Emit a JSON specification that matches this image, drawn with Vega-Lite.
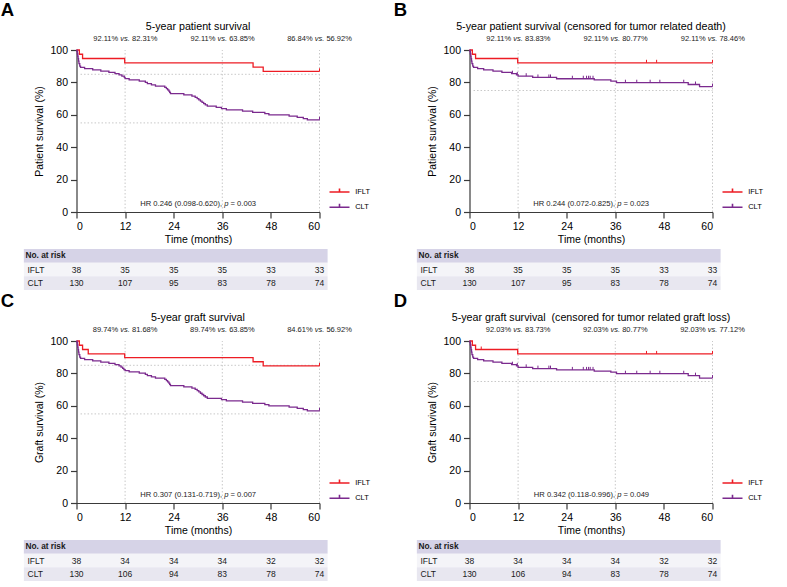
{
"$schema":"https://vega.github.io/schema/vega-lite/v6.json",
"padding":{"left":0.5,"top":0,"right":0,"bottom":0},
"config":{
 "font":"Liberation Sans",
 "view":{"stroke":null},
 "axis":{"domainColor":"#3a3a3a","tickColor":"#3a3a3a","labelColor":"#000","titleColor":"#000","labelFontSize":10.5,"titleFontSize":10.5,"titleFontWeight":"normal","tickSize":6,"grid":false,"domainWidth":1.2,"tickWidth":1.2,"labelOverlap":false},
 "axisX":{"labelPadding":3,"titlePadding":3},
 "axisY":{"labelPadding":3,"titlePadding":5},
 "title":{"fontWeight":"normal","fontSize":10.7,"color":"#000"},
 "text":{"color":"#1a1a1a"}
},
"datasets":{
 "km":[
  {"p":"A","g":"IFLT","t":0,"s":100},{"p":"A","g":"IFLT","t":0.7,"s":97.37},{"p":"A","g":"IFLT","t":1.5,"s":94.74},{"p":"A","g":"IFLT","t":11.9,"s":92.11},{"p":"A","g":"IFLT","t":43.6,"s":89.47},{"p":"A","g":"IFLT","t":46.1,"s":86.84},{"p":"A","g":"IFLT","t":60,"s":86.84},
  {"p":"A","g":"CLT","t":0,"s":100},{"p":"A","g":"CLT","t":0.1,"s":99.23},{"p":"A","g":"CLT","t":0.2,"s":97.69},{"p":"A","g":"CLT","t":0.3,"s":96.15},{"p":"A","g":"CLT","t":0.4,"s":94.62},{"p":"A","g":"CLT","t":0.5,"s":93.08},{"p":"A","g":"CLT","t":0.6,"s":91.54},{"p":"A","g":"CLT","t":0.8,"s":90.0},{"p":"A","g":"CLT","t":1.0,"s":89.23},{"p":"A","g":"CLT","t":2.0,"s":88.46},{"p":"A","g":"CLT","t":4.0,"s":87.69},{"p":"A","g":"CLT","t":6.0,"s":86.92},{"p":"A","g":"CLT","t":8.0,"s":86.15},{"p":"A","g":"CLT","t":9.5,"s":85.38},{"p":"A","g":"CLT","t":10.5,"s":84.62},{"p":"A","g":"CLT","t":11.2,"s":83.85},{"p":"A","g":"CLT","t":11.8,"s":83.08},{"p":"A","g":"CLT","t":12.0,"s":82.31},{"p":"A","g":"CLT","t":13,"s":81.54},{"p":"A","g":"CLT","t":15.5,"s":80.77},{"p":"A","g":"CLT","t":17,"s":80.0},{"p":"A","g":"CLT","t":17.5,"s":79.23},{"p":"A","g":"CLT","t":18.5,"s":78.46},{"p":"A","g":"CLT","t":19.5,"s":77.69},{"p":"A","g":"CLT","t":21.8,"s":76.92},{"p":"A","g":"CLT","t":22.2,"s":76.15},{"p":"A","g":"CLT","t":22.5,"s":75.38},{"p":"A","g":"CLT","t":22.8,"s":74.62},{"p":"A","g":"CLT","t":23.0,"s":73.85},{"p":"A","g":"CLT","t":23.2,"s":73.08},{"p":"A","g":"CLT","t":26.5,"s":72.31},{"p":"A","g":"CLT","t":28.5,"s":71.54},{"p":"A","g":"CLT","t":29.3,"s":70.77},{"p":"A","g":"CLT","t":29.8,"s":70.0},{"p":"A","g":"CLT","t":30.2,"s":69.23},{"p":"A","g":"CLT","t":30.6,"s":68.46},{"p":"A","g":"CLT","t":31.0,"s":67.69},{"p":"A","g":"CLT","t":31.4,"s":66.92},{"p":"A","g":"CLT","t":31.8,"s":66.15},{"p":"A","g":"CLT","t":32.3,"s":65.38},{"p":"A","g":"CLT","t":34.5,"s":64.62},{"p":"A","g":"CLT","t":35.8,"s":63.85},{"p":"A","g":"CLT","t":37,"s":63.08},{"p":"A","g":"CLT","t":41,"s":62.31},{"p":"A","g":"CLT","t":43.5,"s":61.54},{"p":"A","g":"CLT","t":46.5,"s":60.77},{"p":"A","g":"CLT","t":47.5,"s":60.0},{"p":"A","g":"CLT","t":52.5,"s":59.23},{"p":"A","g":"CLT","t":54.5,"s":58.46},{"p":"A","g":"CLT","t":56,"s":57.69},{"p":"A","g":"CLT","t":57,"s":56.92},{"p":"A","g":"CLT","t":60,"s":56.92},
  {"p":"B","g":"IFLT","t":0,"s":100},{"p":"B","g":"IFLT","t":0.7,"s":97.37},{"p":"B","g":"IFLT","t":1.5,"s":94.74},{"p":"B","g":"IFLT","t":11.9,"s":92.11},{"p":"B","g":"IFLT","t":60,"s":92.11},
  {"p":"B","g":"CLT","t":0,"s":100},{"p":"B","g":"CLT","t":0.1,"s":99.23},{"p":"B","g":"CLT","t":0.2,"s":97.69},{"p":"B","g":"CLT","t":0.3,"s":96.15},{"p":"B","g":"CLT","t":0.4,"s":94.62},{"p":"B","g":"CLT","t":0.5,"s":93.08},{"p":"B","g":"CLT","t":0.6,"s":91.54},{"p":"B","g":"CLT","t":0.8,"s":90.0},{"p":"B","g":"CLT","t":1.0,"s":89.23},{"p":"B","g":"CLT","t":2.0,"s":88.46},{"p":"B","g":"CLT","t":3.5,"s":87.69},{"p":"B","g":"CLT","t":5.8,"s":86.92},{"p":"B","g":"CLT","t":8.0,"s":86.15},{"p":"B","g":"CLT","t":10.4,"s":85.38},{"p":"B","g":"CLT","t":11.6,"s":84.61},{"p":"B","g":"CLT","t":12.0,"s":83.83},{"p":"B","g":"CLT","t":15.6,"s":83.05},{"p":"B","g":"CLT","t":21.5,"s":82.26},{"p":"B","g":"CLT","t":30.8,"s":81.5},{"p":"B","g":"CLT","t":34.9,"s":80.77},{"p":"B","g":"CLT","t":36.3,"s":79.8},{"p":"B","g":"CLT","t":54.0,"s":78.7},{"p":"B","g":"CLT","t":56.8,"s":77.4},{"p":"B","g":"CLT","t":60,"s":77.4},
  {"p":"C","g":"IFLT","t":0,"s":100},{"p":"C","g":"IFLT","t":0.7,"s":97.37},{"p":"C","g":"IFLT","t":1.5,"s":94.74},{"p":"C","g":"IFLT","t":2.9,"s":92.11},{"p":"C","g":"IFLT","t":11.9,"s":89.74},{"p":"C","g":"IFLT","t":43.6,"s":87.18},{"p":"C","g":"IFLT","t":46.1,"s":84.61},{"p":"C","g":"IFLT","t":60,"s":84.61},
  {"p":"C","g":"CLT","t":0,"s":100},{"p":"C","g":"CLT","t":0.1,"s":99.23},{"p":"C","g":"CLT","t":0.2,"s":97.69},{"p":"C","g":"CLT","t":0.3,"s":96.15},{"p":"C","g":"CLT","t":0.4,"s":94.62},{"p":"C","g":"CLT","t":0.5,"s":93.08},{"p":"C","g":"CLT","t":0.6,"s":91.54},{"p":"C","g":"CLT","t":0.8,"s":90.0},{"p":"C","g":"CLT","t":1.0,"s":89.23},{"p":"C","g":"CLT","t":2.0,"s":88.46},{"p":"C","g":"CLT","t":4.0,"s":87.69},{"p":"C","g":"CLT","t":6.0,"s":86.92},{"p":"C","g":"CLT","t":8.0,"s":86.15},{"p":"C","g":"CLT","t":9.5,"s":85.38},{"p":"C","g":"CLT","t":10.5,"s":84.62},{"p":"C","g":"CLT","t":11.0,"s":83.85},{"p":"C","g":"CLT","t":11.4,"s":83.08},{"p":"C","g":"CLT","t":11.7,"s":82.36},{"p":"C","g":"CLT","t":12.0,"s":81.68},{"p":"C","g":"CLT","t":13,"s":80.91},{"p":"C","g":"CLT","t":15.5,"s":80.14},{"p":"C","g":"CLT","t":17,"s":79.37},{"p":"C","g":"CLT","t":17.5,"s":78.6},{"p":"C","g":"CLT","t":18.5,"s":77.83},{"p":"C","g":"CLT","t":19.5,"s":77.06},{"p":"C","g":"CLT","t":21.8,"s":76.29},{"p":"C","g":"CLT","t":22.2,"s":75.52},{"p":"C","g":"CLT","t":22.5,"s":74.75},{"p":"C","g":"CLT","t":22.8,"s":73.98},{"p":"C","g":"CLT","t":23.0,"s":73.21},{"p":"C","g":"CLT","t":23.2,"s":72.44},{"p":"C","g":"CLT","t":26.5,"s":71.66},{"p":"C","g":"CLT","t":28.5,"s":70.88},{"p":"C","g":"CLT","t":29.3,"s":70.1},{"p":"C","g":"CLT","t":29.8,"s":69.32},{"p":"C","g":"CLT","t":30.2,"s":68.54},{"p":"C","g":"CLT","t":30.6,"s":67.76},{"p":"C","g":"CLT","t":31.0,"s":66.98},{"p":"C","g":"CLT","t":31.4,"s":66.2},{"p":"C","g":"CLT","t":31.8,"s":65.42},{"p":"C","g":"CLT","t":32.3,"s":64.64},{"p":"C","g":"CLT","t":35.8,"s":63.85},{"p":"C","g":"CLT","t":37,"s":63.08},{"p":"C","g":"CLT","t":41,"s":62.31},{"p":"C","g":"CLT","t":43.5,"s":61.54},{"p":"C","g":"CLT","t":46.5,"s":60.77},{"p":"C","g":"CLT","t":47.5,"s":60.0},{"p":"C","g":"CLT","t":52.5,"s":59.23},{"p":"C","g":"CLT","t":54.5,"s":58.46},{"p":"C","g":"CLT","t":56,"s":57.69},{"p":"C","g":"CLT","t":57,"s":56.92},{"p":"C","g":"CLT","t":60,"s":56.92},
  {"p":"D","g":"IFLT","t":0,"s":100},{"p":"D","g":"IFLT","t":0.7,"s":97.37},{"p":"D","g":"IFLT","t":1.5,"s":94.74},{"p":"D","g":"IFLT","t":11.9,"s":92.03},{"p":"D","g":"IFLT","t":60,"s":92.03},
  {"p":"D","g":"CLT","t":0,"s":100},{"p":"D","g":"CLT","t":0.1,"s":99.23},{"p":"D","g":"CLT","t":0.2,"s":97.69},{"p":"D","g":"CLT","t":0.3,"s":96.15},{"p":"D","g":"CLT","t":0.4,"s":94.62},{"p":"D","g":"CLT","t":0.5,"s":93.08},{"p":"D","g":"CLT","t":0.6,"s":91.54},{"p":"D","g":"CLT","t":0.8,"s":90.0},{"p":"D","g":"CLT","t":1.0,"s":89.23},{"p":"D","g":"CLT","t":2.0,"s":88.46},{"p":"D","g":"CLT","t":3.5,"s":87.69},{"p":"D","g":"CLT","t":5.8,"s":86.92},{"p":"D","g":"CLT","t":8.0,"s":86.15},{"p":"D","g":"CLT","t":10.4,"s":85.38},{"p":"D","g":"CLT","t":11.6,"s":84.61},{"p":"D","g":"CLT","t":12.0,"s":83.73},{"p":"D","g":"CLT","t":15.6,"s":82.95},{"p":"D","g":"CLT","t":21.5,"s":82.16},{"p":"D","g":"CLT","t":30.8,"s":81.4},{"p":"D","g":"CLT","t":34.9,"s":80.77},{"p":"D","g":"CLT","t":36.3,"s":79.8},{"p":"D","g":"CLT","t":54.0,"s":78.6},{"p":"D","g":"CLT","t":56.8,"s":77.12},{"p":"D","g":"CLT","t":60,"s":77.12}
 ],
 "cens":[
  {"p":"A","g":"IFLT","t":60,"s":86.84},{"p":"A","g":"CLT","t":60,"s":56.92},
  {"p":"C","g":"IFLT","t":60,"s":84.61},{"p":"C","g":"CLT","t":60,"s":56.92},
  {"p":"B","g":"IFLT","t":43.7,"s":92.11},{"p":"B","g":"IFLT","t":46.2,"s":92.11},{"p":"B","g":"IFLT","t":60,"s":92.11},
  {"p":"B","g":"CLT","t":10.6,"s":85.38},{"p":"B","g":"CLT","t":11.8,"s":84.61},{"p":"B","g":"CLT","t":14.0,"s":83.83},{"p":"B","g":"CLT","t":16.9,"s":83.05},{"p":"B","g":"CLT","t":19.6,"s":83.05},{"p":"B","g":"CLT","t":20.0,"s":83.05},{"p":"B","g":"CLT","t":25.4,"s":82.26},{"p":"B","g":"CLT","t":28.1,"s":82.26},{"p":"B","g":"CLT","t":28.9,"s":82.26},{"p":"B","g":"CLT","t":29.4,"s":82.26},{"p":"B","g":"CLT","t":29.8,"s":82.26},{"p":"B","g":"CLT","t":30.5,"s":82.26},{"p":"B","g":"CLT","t":38.5,"s":79.8},{"p":"B","g":"CLT","t":41.3,"s":79.8},{"p":"B","g":"CLT","t":44.6,"s":79.8},{"p":"B","g":"CLT","t":47.0,"s":79.8},{"p":"B","g":"CLT","t":52.9,"s":79.8},{"p":"B","g":"CLT","t":55.8,"s":78.7},{"p":"B","g":"CLT","t":60,"s":77.4},
  {"p":"D","g":"IFLT","t":2.9,"s":94.74},{"p":"D","g":"IFLT","t":43.7,"s":92.03},{"p":"D","g":"IFLT","t":46.2,"s":92.03},{"p":"D","g":"IFLT","t":60,"s":92.03},
  {"p":"D","g":"CLT","t":10.6,"s":85.38},{"p":"D","g":"CLT","t":11.8,"s":84.61},{"p":"D","g":"CLT","t":14.0,"s":83.73},{"p":"D","g":"CLT","t":16.9,"s":82.95},{"p":"D","g":"CLT","t":19.6,"s":82.95},{"p":"D","g":"CLT","t":20.0,"s":82.95},{"p":"D","g":"CLT","t":25.4,"s":82.16},{"p":"D","g":"CLT","t":28.1,"s":82.16},{"p":"D","g":"CLT","t":28.9,"s":82.16},{"p":"D","g":"CLT","t":29.4,"s":82.16},{"p":"D","g":"CLT","t":29.8,"s":82.16},{"p":"D","g":"CLT","t":30.5,"s":82.16},{"p":"D","g":"CLT","t":38.5,"s":79.8},{"p":"D","g":"CLT","t":41.3,"s":79.8},{"p":"D","g":"CLT","t":44.6,"s":79.8},{"p":"D","g":"CLT","t":47.0,"s":79.8},{"p":"D","g":"CLT","t":52.9,"s":79.8},{"p":"D","g":"CLT","t":55.8,"s":78.6},{"p":"D","g":"CLT","t":60,"s":77.12}
 ],
 "pct":[
  {"p":"A","t":12,"a":"92.11%","b":"82.31%"},{"p":"A","t":36,"a":"92.11%","b":"63.85%"},{"p":"A","t":60,"a":"86.84%","b":"56.92%"},
  {"p":"B","t":12,"a":"92.11%","b":"83.83%"},{"p":"B","t":36,"a":"92.11%","b":"80.77%"},{"p":"B","t":60,"a":"92.11%","b":"78.46%"},
  {"p":"C","t":12,"a":"89.74%","b":"81.68%"},{"p":"C","t":36,"a":"89.74%","b":"63.85%"},{"p":"C","t":60,"a":"84.61%","b":"56.92%"},
  {"p":"D","t":12,"a":"92.03%","b":"83.73%"},{"p":"D","t":36,"a":"92.03%","b":"80.77%"},{"p":"D","t":60,"a":"92.03%","b":"77.12%"}
 ],
 "ref":[{"p":"A","s":85},{"p":"A","s":55},{"p":"B","s":75},{"p":"C","s":85},{"p":"C","s":55},{"p":"D","s":75}],
 "hr":[
  {"p":"A","h":"HR 0.246 (0.098-0.620),","v":"= 0.003"},
  {"p":"B","h":"HR 0.244 (0.072-0.825),","v":"= 0.023"},
  {"p":"C","h":"HR 0.307 (0.131-0.719),","v":"= 0.007"},
  {"p":"D","h":"HR 0.342 (0.118-0.996),","v":"= 0.049"}
 ],
 "risk":[
  {"p":"A","g":"IFLT","t":0,"n":38},{"p":"A","g":"IFLT","t":12,"n":35},{"p":"A","g":"IFLT","t":24,"n":35},{"p":"A","g":"IFLT","t":36,"n":35},{"p":"A","g":"IFLT","t":48,"n":33},{"p":"A","g":"IFLT","t":60,"n":33},
  {"p":"A","g":"CLT","t":0,"n":130},{"p":"A","g":"CLT","t":12,"n":107},{"p":"A","g":"CLT","t":24,"n":95},{"p":"A","g":"CLT","t":36,"n":83},{"p":"A","g":"CLT","t":48,"n":78},{"p":"A","g":"CLT","t":60,"n":74},
  {"p":"B","g":"IFLT","t":0,"n":38},{"p":"B","g":"IFLT","t":12,"n":35},{"p":"B","g":"IFLT","t":24,"n":35},{"p":"B","g":"IFLT","t":36,"n":35},{"p":"B","g":"IFLT","t":48,"n":33},{"p":"B","g":"IFLT","t":60,"n":33},
  {"p":"B","g":"CLT","t":0,"n":130},{"p":"B","g":"CLT","t":12,"n":107},{"p":"B","g":"CLT","t":24,"n":95},{"p":"B","g":"CLT","t":36,"n":83},{"p":"B","g":"CLT","t":48,"n":78},{"p":"B","g":"CLT","t":60,"n":74},
  {"p":"C","g":"IFLT","t":0,"n":38},{"p":"C","g":"IFLT","t":12,"n":34},{"p":"C","g":"IFLT","t":24,"n":34},{"p":"C","g":"IFLT","t":36,"n":34},{"p":"C","g":"IFLT","t":48,"n":32},{"p":"C","g":"IFLT","t":60,"n":32},
  {"p":"C","g":"CLT","t":0,"n":130},{"p":"C","g":"CLT","t":12,"n":106},{"p":"C","g":"CLT","t":24,"n":94},{"p":"C","g":"CLT","t":36,"n":83},{"p":"C","g":"CLT","t":48,"n":78},{"p":"C","g":"CLT","t":60,"n":74},
  {"p":"D","g":"IFLT","t":0,"n":38},{"p":"D","g":"IFLT","t":12,"n":34},{"p":"D","g":"IFLT","t":24,"n":34},{"p":"D","g":"IFLT","t":36,"n":34},{"p":"D","g":"IFLT","t":48,"n":32},{"p":"D","g":"IFLT","t":60,"n":32},
  {"p":"D","g":"CLT","t":0,"n":130},{"p":"D","g":"CLT","t":12,"n":106},{"p":"D","g":"CLT","t":24,"n":94},{"p":"D","g":"CLT","t":36,"n":83},{"p":"D","g":"CLT","t":48,"n":78},{"p":"D","g":"CLT","t":60,"n":74}
 ]
},
"spacing":1,
"resolve":{"scale":{"color":"independent"},"legend":{"color":"independent"}},
"vconcat":[
 {"spacing":23,"resolve":{"scale":{"color":"independent"},"legend":{"color":"independent"}},
  "hconcat":[
   {"title":{"text":"A","anchor":"start","fontSize":18.5,"fontWeight":"bold","offset":2,"dx":-23},
    "spacing":4,"resolve":{"scale":{"color":"independent"},"legend":{"color":"independent"}},
    "vconcat":[
     {"width":243,"height":162,
      "title":{"text":"5-year patient survival","frame":"group","anchor":"middle","offset":2},
      "layer":[
       {"data":{"name":"pct"},"transform":[{"filter":"datum.p==='A'"}],"mark":{"type":"rule","color":"#c8c8c8","strokeDash":[1.5,2],"strokeWidth":1},"encoding":{"x":{"field":"t","type":"quantitative","title":"Time (months)","scale":{"domain":[0,60],"nice":false,"zero":false},"axis":{"values":[0,12,24,36,48,60],"labelOverlap":false}},"y":{"datum":0,"title":"Patient survival (%)","scale":{"domain":[0,100],"nice":false},"axis":{"values":[0,20,40,60,80,100],"labelOverlap":false}},"y2":{"datum":100}}},
       {"data":{"name":"ref"},"transform":[{"filter":"datum.p==='A'"}],"mark":{"type":"rule","color":"#c8c8c8","strokeDash":[1.5,2],"strokeWidth":1},"encoding":{"x":{"datum":1,"title":"Time (months)","scale":{"domain":[0,60],"nice":false,"zero":false},"axis":{"values":[0,12,24,36,48,60],"labelOverlap":false}},"x2":{"datum":60},"y":{"field":"s","type":"quantitative","title":"Patient survival (%)","scale":{"domain":[0,100],"nice":false},"axis":{"values":[0,20,40,60,80,100],"labelOverlap":false}}}},
       {"data":{"name":"km"},"transform":[{"filter":"datum.p==='A'"}],"mark":{"type":"line","interpolate":"step-after","strokeWidth":1.3},
        "encoding":{"x":{"field":"t","type":"quantitative","title":"Time (months)","scale":{"domain":[0,60],"nice":false,"zero":false},"axis":{"values":[0,12,24,36,48,60],"labelOverlap":false}},"y":{"field":"s","type":"quantitative","title":"Patient survival (%)","scale":{"domain":[0,100],"nice":false},"axis":{"values":[0,20,40,60,80,100],"labelOverlap":false}},
         "color":{"field":"g","type":"nominal","scale":{"domain":["IFLT","CLT"],"range":["#ed1c24","#7b2a8e"]},
          "legend":{"title":null,"orient":"none","direction":"vertical","legendX":257,"legendY":136,"symbolType":"M-2,0H2M0,0V-0.7","symbolSize":100,"symbolStrokeWidth":1.6,"labelFontSize":7.5,"labelOffset":9.7,"rowPadding":4.2,"padding":0,"labelColor":"#000"}}}},
       {"data":{"name":"cens"},"transform":[{"filter":"datum.p==='A' && datum.g==='IFLT'"}],"mark":{"type":"point","shape":"M0,0V-1","size":36,"filled":false,"color":"#ed1c24","strokeWidth":1,"opacity":1},"encoding":{"x":{"field":"t","type":"quantitative","title":"Time (months)","scale":{"domain":[0,60],"nice":false,"zero":false},"axis":{"values":[0,12,24,36,48,60],"labelOverlap":false}},"y":{"field":"s","type":"quantitative","title":"Patient survival (%)","scale":{"domain":[0,100],"nice":false},"axis":{"values":[0,20,40,60,80,100],"labelOverlap":false}}}},
       {"data":{"name":"cens"},"transform":[{"filter":"datum.p==='A' && datum.g==='CLT'"}],"mark":{"type":"point","shape":"M0,0V-1","size":36,"filled":false,"color":"#7b2a8e","strokeWidth":1,"opacity":1},"encoding":{"x":{"field":"t","type":"quantitative","title":"Time (months)","scale":{"domain":[0,60],"nice":false,"zero":false},"axis":{"values":[0,12,24,36,48,60],"labelOverlap":false}},"y":{"field":"s","type":"quantitative","title":"Patient survival (%)","scale":{"domain":[0,100],"nice":false},"axis":{"values":[0,20,40,60,80,100],"labelOverlap":false}}}},
       {"data":{"name":"pct"},"transform":[{"filter":"datum.p==='A'"}],"mark":{"type":"text","align":"right","dx":-6.9,"fontSize":7.5,"baseline":"middle"},"encoding":{"x":{"field":"t","type":"quantitative","title":"Time (months)","scale":{"domain":[0,60],"nice":false,"zero":false},"axis":{"values":[0,12,24,36,48,60],"labelOverlap":false}},"y":{"datum":106.8,"title":"Patient survival (%)","scale":{"domain":[0,100],"nice":false},"axis":{"values":[0,20,40,60,80,100],"labelOverlap":false}},"text":{"field":"a"}}},
       {"data":{"name":"pct"},"transform":[{"filter":"datum.p==='A'"}],"mark":{"type":"text","text":"vs.","fontStyle":"italic","align":"center","fontSize":7.5,"baseline":"middle"},"encoding":{"x":{"field":"t","type":"quantitative","title":"Time (months)","scale":{"domain":[0,60],"nice":false,"zero":false},"axis":{"values":[0,12,24,36,48,60],"labelOverlap":false}},"y":{"datum":106.8,"title":"Patient survival (%)","scale":{"domain":[0,100],"nice":false},"axis":{"values":[0,20,40,60,80,100],"labelOverlap":false}}}},
       {"data":{"name":"pct"},"transform":[{"filter":"datum.p==='A'"}],"mark":{"type":"text","align":"left","dx":6.9,"fontSize":7.5,"baseline":"middle"},"encoding":{"x":{"field":"t","type":"quantitative","title":"Time (months)","scale":{"domain":[0,60],"nice":false,"zero":false},"axis":{"values":[0,12,24,36,48,60],"labelOverlap":false}},"y":{"datum":106.8,"title":"Patient survival (%)","scale":{"domain":[0,100],"nice":false},"axis":{"values":[0,20,40,60,80,100],"labelOverlap":false}},"text":{"field":"b"}}},
       {"data":{"name":"hr"},"transform":[{"filter":"datum.p==='A'"}],"mark":{"type":"text","align":"right","dx":-4.2,"fontSize":7.6,"baseline":"middle"},"encoding":{"x":{"datum":37,"title":"Time (months)","scale":{"domain":[0,60],"nice":false,"zero":false},"axis":{"values":[0,12,24,36,48,60],"labelOverlap":false}},"y":{"datum":5.1,"title":"Patient survival (%)","scale":{"domain":[0,100],"nice":false},"axis":{"values":[0,20,40,60,80,100],"labelOverlap":false}},"text":{"field":"h"}}},
       {"data":{"name":"hr"},"transform":[{"filter":"datum.p==='A'"}],"mark":{"type":"text","text":"p","fontStyle":"italic","align":"center","fontSize":7.6,"baseline":"middle"},"encoding":{"x":{"datum":37,"title":"Time (months)","scale":{"domain":[0,60],"nice":false,"zero":false},"axis":{"values":[0,12,24,36,48,60],"labelOverlap":false}},"y":{"datum":5.1,"title":"Patient survival (%)","scale":{"domain":[0,100],"nice":false},"axis":{"values":[0,20,40,60,80,100],"labelOverlap":false}}}},
       {"data":{"name":"hr"},"transform":[{"filter":"datum.p==='A'"}],"mark":{"type":"text","align":"left","dx":4.2,"fontSize":7.6,"baseline":"middle"},"encoding":{"x":{"datum":37,"title":"Time (months)","scale":{"domain":[0,60],"nice":false,"zero":false},"axis":{"values":[0,12,24,36,48,60],"labelOverlap":false}},"y":{"datum":5.1,"title":"Patient survival (%)","scale":{"domain":[0,100],"nice":false},"axis":{"values":[0,20,40,60,80,100],"labelOverlap":false}},"text":{"field":"v"}}}
      ]},
     {"width":243,"height":41,"data":{"name":"risk"},"transform":[{"filter":"datum.p==='A'"}],
      "layer":[
       {"transform":[{"filter":"datum.t===0 && datum.g==='IFLT'"}],"mark":{"type":"rect","fill":"#d6d3e7"},"encoding":{"x":{"datum":-13,"axis":null},"x2":{"datum":62},"y":{"datum":"No. at risk","type":"nominal","axis":null}}},
       {"transform":[{"filter":"datum.t===0 && datum.g==='IFLT'"}],"mark":{"type":"rect","fill":"#f4f4f8"},"encoding":{"x":{"datum":-13,"axis":null},"x2":{"datum":62},"y":{"datum":"IFLT","type":"nominal","axis":null}}},
       {"transform":[{"filter":"datum.t===0 && datum.g==='IFLT'"}],"mark":{"type":"rect","fill":"#e8e7f0"},"encoding":{"x":{"datum":-13,"axis":null},"x2":{"datum":62},"y":{"datum":"CLT","type":"nominal","axis":null}}},
       {"transform":[{"filter":"datum.t===0 && datum.g==='IFLT'"}],"mark":{"type":"text","text":"No. at risk","align":"left","fontWeight":"bold","fontSize":8.3,"baseline":"middle"},"encoding":{"x":{"datum":-12.6,"axis":null},"y":{"datum":"No. at risk","type":"nominal","axis":null}}},
       {"transform":[{"filter":"datum.t===0"}],"mark":{"type":"text","align":"left","fontSize":8.5,"baseline":"middle"},"encoding":{"x":{"datum":-12.1,"axis":null},"y":{"field":"g","type":"nominal","axis":null},"text":{"field":"g"}}},
       {"mark":{"type":"text","fontSize":8.5,"baseline":"middle"},"encoding":{"x":{"field":"t","type":"quantitative","scale":{"domain":[0,60],"nice":false,"zero":false},"axis":null},"y":{"field":"g","type":"nominal","scale":{"type":"band","domain":["No. at risk","IFLT","CLT"],"paddingInner":0,"paddingOuter":0},"axis":null},"text":{"field":"n"}}}
      ]}
    ]},
   {"title":{"text":"B","anchor":"start","fontSize":18.5,"fontWeight":"bold","offset":2,"dx":-23},
    "spacing":4,"resolve":{"scale":{"color":"independent"},"legend":{"color":"independent"}},
    "vconcat":[
     {"width":243,"height":162,
      "title":{"text":"5-year patient survival (censored for tumor related death)","frame":"group","anchor":"middle","offset":2},
      "layer":[
       {"data":{"name":"pct"},"transform":[{"filter":"datum.p==='B'"}],"mark":{"type":"rule","color":"#c8c8c8","strokeDash":[1.5,2],"strokeWidth":1},"encoding":{"x":{"field":"t","type":"quantitative","title":"Time (months)","scale":{"domain":[0,60],"nice":false,"zero":false},"axis":{"values":[0,12,24,36,48,60],"labelOverlap":false}},"y":{"datum":0,"title":"Patient survival (%)","scale":{"domain":[0,100],"nice":false},"axis":{"values":[0,20,40,60,80,100],"labelOverlap":false}},"y2":{"datum":100}}},
       {"data":{"name":"ref"},"transform":[{"filter":"datum.p==='B'"}],"mark":{"type":"rule","color":"#c8c8c8","strokeDash":[1.5,2],"strokeWidth":1},"encoding":{"x":{"datum":1,"title":"Time (months)","scale":{"domain":[0,60],"nice":false,"zero":false},"axis":{"values":[0,12,24,36,48,60],"labelOverlap":false}},"x2":{"datum":60},"y":{"field":"s","type":"quantitative","title":"Patient survival (%)","scale":{"domain":[0,100],"nice":false},"axis":{"values":[0,20,40,60,80,100],"labelOverlap":false}}}},
       {"data":{"name":"km"},"transform":[{"filter":"datum.p==='B'"}],"mark":{"type":"line","interpolate":"step-after","strokeWidth":1.3},
        "encoding":{"x":{"field":"t","type":"quantitative","title":"Time (months)","scale":{"domain":[0,60],"nice":false,"zero":false},"axis":{"values":[0,12,24,36,48,60],"labelOverlap":false}},"y":{"field":"s","type":"quantitative","title":"Patient survival (%)","scale":{"domain":[0,100],"nice":false},"axis":{"values":[0,20,40,60,80,100],"labelOverlap":false}},
         "color":{"field":"g","type":"nominal","scale":{"domain":["IFLT","CLT"],"range":["#ed1c24","#7b2a8e"]},
          "legend":{"title":null,"orient":"none","direction":"vertical","legendX":257,"legendY":136,"symbolType":"M-2,0H2M0,0V-0.7","symbolSize":100,"symbolStrokeWidth":1.6,"labelFontSize":7.5,"labelOffset":9.7,"rowPadding":4.2,"padding":0,"labelColor":"#000"}}}},
       {"data":{"name":"cens"},"transform":[{"filter":"datum.p==='B' && datum.g==='IFLT'"}],"mark":{"type":"point","shape":"M0,0V-1","size":36,"filled":false,"color":"#ed1c24","strokeWidth":1,"opacity":1},"encoding":{"x":{"field":"t","type":"quantitative","title":"Time (months)","scale":{"domain":[0,60],"nice":false,"zero":false},"axis":{"values":[0,12,24,36,48,60],"labelOverlap":false}},"y":{"field":"s","type":"quantitative","title":"Patient survival (%)","scale":{"domain":[0,100],"nice":false},"axis":{"values":[0,20,40,60,80,100],"labelOverlap":false}}}},
       {"data":{"name":"cens"},"transform":[{"filter":"datum.p==='B' && datum.g==='CLT'"}],"mark":{"type":"point","shape":"M0,0V-1","size":36,"filled":false,"color":"#7b2a8e","strokeWidth":1,"opacity":1},"encoding":{"x":{"field":"t","type":"quantitative","title":"Time (months)","scale":{"domain":[0,60],"nice":false,"zero":false},"axis":{"values":[0,12,24,36,48,60],"labelOverlap":false}},"y":{"field":"s","type":"quantitative","title":"Patient survival (%)","scale":{"domain":[0,100],"nice":false},"axis":{"values":[0,20,40,60,80,100],"labelOverlap":false}}}},
       {"data":{"name":"pct"},"transform":[{"filter":"datum.p==='B'"}],"mark":{"type":"text","align":"right","dx":-6.9,"fontSize":7.5,"baseline":"middle"},"encoding":{"x":{"field":"t","type":"quantitative","title":"Time (months)","scale":{"domain":[0,60],"nice":false,"zero":false},"axis":{"values":[0,12,24,36,48,60],"labelOverlap":false}},"y":{"datum":106.8,"title":"Patient survival (%)","scale":{"domain":[0,100],"nice":false},"axis":{"values":[0,20,40,60,80,100],"labelOverlap":false}},"text":{"field":"a"}}},
       {"data":{"name":"pct"},"transform":[{"filter":"datum.p==='B'"}],"mark":{"type":"text","text":"vs.","fontStyle":"italic","align":"center","fontSize":7.5,"baseline":"middle"},"encoding":{"x":{"field":"t","type":"quantitative","title":"Time (months)","scale":{"domain":[0,60],"nice":false,"zero":false},"axis":{"values":[0,12,24,36,48,60],"labelOverlap":false}},"y":{"datum":106.8,"title":"Patient survival (%)","scale":{"domain":[0,100],"nice":false},"axis":{"values":[0,20,40,60,80,100],"labelOverlap":false}}}},
       {"data":{"name":"pct"},"transform":[{"filter":"datum.p==='B'"}],"mark":{"type":"text","align":"left","dx":6.9,"fontSize":7.5,"baseline":"middle"},"encoding":{"x":{"field":"t","type":"quantitative","title":"Time (months)","scale":{"domain":[0,60],"nice":false,"zero":false},"axis":{"values":[0,12,24,36,48,60],"labelOverlap":false}},"y":{"datum":106.8,"title":"Patient survival (%)","scale":{"domain":[0,100],"nice":false},"axis":{"values":[0,20,40,60,80,100],"labelOverlap":false}},"text":{"field":"b"}}},
       {"data":{"name":"hr"},"transform":[{"filter":"datum.p==='B'"}],"mark":{"type":"text","align":"right","dx":-4.2,"fontSize":7.6,"baseline":"middle"},"encoding":{"x":{"datum":37,"title":"Time (months)","scale":{"domain":[0,60],"nice":false,"zero":false},"axis":{"values":[0,12,24,36,48,60],"labelOverlap":false}},"y":{"datum":5.1,"title":"Patient survival (%)","scale":{"domain":[0,100],"nice":false},"axis":{"values":[0,20,40,60,80,100],"labelOverlap":false}},"text":{"field":"h"}}},
       {"data":{"name":"hr"},"transform":[{"filter":"datum.p==='B'"}],"mark":{"type":"text","text":"p","fontStyle":"italic","align":"center","fontSize":7.6,"baseline":"middle"},"encoding":{"x":{"datum":37,"title":"Time (months)","scale":{"domain":[0,60],"nice":false,"zero":false},"axis":{"values":[0,12,24,36,48,60],"labelOverlap":false}},"y":{"datum":5.1,"title":"Patient survival (%)","scale":{"domain":[0,100],"nice":false},"axis":{"values":[0,20,40,60,80,100],"labelOverlap":false}}}},
       {"data":{"name":"hr"},"transform":[{"filter":"datum.p==='B'"}],"mark":{"type":"text","align":"left","dx":4.2,"fontSize":7.6,"baseline":"middle"},"encoding":{"x":{"datum":37,"title":"Time (months)","scale":{"domain":[0,60],"nice":false,"zero":false},"axis":{"values":[0,12,24,36,48,60],"labelOverlap":false}},"y":{"datum":5.1,"title":"Patient survival (%)","scale":{"domain":[0,100],"nice":false},"axis":{"values":[0,20,40,60,80,100],"labelOverlap":false}},"text":{"field":"v"}}}
      ]},
     {"width":243,"height":41,"data":{"name":"risk"},"transform":[{"filter":"datum.p==='B'"}],
      "layer":[
       {"transform":[{"filter":"datum.t===0 && datum.g==='IFLT'"}],"mark":{"type":"rect","fill":"#d6d3e7"},"encoding":{"x":{"datum":-13,"axis":null},"x2":{"datum":62},"y":{"datum":"No. at risk","type":"nominal","axis":null}}},
       {"transform":[{"filter":"datum.t===0 && datum.g==='IFLT'"}],"mark":{"type":"rect","fill":"#f4f4f8"},"encoding":{"x":{"datum":-13,"axis":null},"x2":{"datum":62},"y":{"datum":"IFLT","type":"nominal","axis":null}}},
       {"transform":[{"filter":"datum.t===0 && datum.g==='IFLT'"}],"mark":{"type":"rect","fill":"#e8e7f0"},"encoding":{"x":{"datum":-13,"axis":null},"x2":{"datum":62},"y":{"datum":"CLT","type":"nominal","axis":null}}},
       {"transform":[{"filter":"datum.t===0 && datum.g==='IFLT'"}],"mark":{"type":"text","text":"No. at risk","align":"left","fontWeight":"bold","fontSize":8.3,"baseline":"middle"},"encoding":{"x":{"datum":-12.6,"axis":null},"y":{"datum":"No. at risk","type":"nominal","axis":null}}},
       {"transform":[{"filter":"datum.t===0"}],"mark":{"type":"text","align":"left","fontSize":8.5,"baseline":"middle"},"encoding":{"x":{"datum":-12.1,"axis":null},"y":{"field":"g","type":"nominal","axis":null},"text":{"field":"g"}}},
       {"mark":{"type":"text","fontSize":8.5,"baseline":"middle"},"encoding":{"x":{"field":"t","type":"quantitative","scale":{"domain":[0,60],"nice":false,"zero":false},"axis":null},"y":{"field":"g","type":"nominal","scale":{"type":"band","domain":["No. at risk","IFLT","CLT"],"paddingInner":0,"paddingOuter":0},"axis":null},"text":{"field":"n"}}}
      ]}
    ]}
  ]},
 {"spacing":23,"resolve":{"scale":{"color":"independent"},"legend":{"color":"independent"}},
  "hconcat":[
   {"title":{"text":"C","anchor":"start","fontSize":18.5,"fontWeight":"bold","offset":2,"dx":-23},
    "spacing":4,"resolve":{"scale":{"color":"independent"},"legend":{"color":"independent"}},
    "vconcat":[
     {"width":243,"height":162,
      "title":{"text":"5-year graft survival","frame":"group","anchor":"middle","offset":2},
      "layer":[
       {"data":{"name":"pct"},"transform":[{"filter":"datum.p==='C'"}],"mark":{"type":"rule","color":"#c8c8c8","strokeDash":[1.5,2],"strokeWidth":1},"encoding":{"x":{"field":"t","type":"quantitative","title":"Time (months)","scale":{"domain":[0,60],"nice":false,"zero":false},"axis":{"values":[0,12,24,36,48,60],"labelOverlap":false}},"y":{"datum":0,"title":"Graft survival (%)","scale":{"domain":[0,100],"nice":false},"axis":{"values":[0,20,40,60,80,100],"labelOverlap":false}},"y2":{"datum":100}}},
       {"data":{"name":"ref"},"transform":[{"filter":"datum.p==='C'"}],"mark":{"type":"rule","color":"#c8c8c8","strokeDash":[1.5,2],"strokeWidth":1},"encoding":{"x":{"datum":1,"title":"Time (months)","scale":{"domain":[0,60],"nice":false,"zero":false},"axis":{"values":[0,12,24,36,48,60],"labelOverlap":false}},"x2":{"datum":60},"y":{"field":"s","type":"quantitative","title":"Graft survival (%)","scale":{"domain":[0,100],"nice":false},"axis":{"values":[0,20,40,60,80,100],"labelOverlap":false}}}},
       {"data":{"name":"km"},"transform":[{"filter":"datum.p==='C'"}],"mark":{"type":"line","interpolate":"step-after","strokeWidth":1.3},
        "encoding":{"x":{"field":"t","type":"quantitative","title":"Time (months)","scale":{"domain":[0,60],"nice":false,"zero":false},"axis":{"values":[0,12,24,36,48,60],"labelOverlap":false}},"y":{"field":"s","type":"quantitative","title":"Graft survival (%)","scale":{"domain":[0,100],"nice":false},"axis":{"values":[0,20,40,60,80,100],"labelOverlap":false}},
         "color":{"field":"g","type":"nominal","scale":{"domain":["IFLT","CLT"],"range":["#ed1c24","#7b2a8e"]},
          "legend":{"title":null,"orient":"none","direction":"vertical","legendX":257,"legendY":136,"symbolType":"M-2,0H2M0,0V-0.7","symbolSize":100,"symbolStrokeWidth":1.6,"labelFontSize":7.5,"labelOffset":9.7,"rowPadding":4.2,"padding":0,"labelColor":"#000"}}}},
       {"data":{"name":"cens"},"transform":[{"filter":"datum.p==='C' && datum.g==='IFLT'"}],"mark":{"type":"point","shape":"M0,0V-1","size":36,"filled":false,"color":"#ed1c24","strokeWidth":1,"opacity":1},"encoding":{"x":{"field":"t","type":"quantitative","title":"Time (months)","scale":{"domain":[0,60],"nice":false,"zero":false},"axis":{"values":[0,12,24,36,48,60],"labelOverlap":false}},"y":{"field":"s","type":"quantitative","title":"Graft survival (%)","scale":{"domain":[0,100],"nice":false},"axis":{"values":[0,20,40,60,80,100],"labelOverlap":false}}}},
       {"data":{"name":"cens"},"transform":[{"filter":"datum.p==='C' && datum.g==='CLT'"}],"mark":{"type":"point","shape":"M0,0V-1","size":36,"filled":false,"color":"#7b2a8e","strokeWidth":1,"opacity":1},"encoding":{"x":{"field":"t","type":"quantitative","title":"Time (months)","scale":{"domain":[0,60],"nice":false,"zero":false},"axis":{"values":[0,12,24,36,48,60],"labelOverlap":false}},"y":{"field":"s","type":"quantitative","title":"Graft survival (%)","scale":{"domain":[0,100],"nice":false},"axis":{"values":[0,20,40,60,80,100],"labelOverlap":false}}}},
       {"data":{"name":"pct"},"transform":[{"filter":"datum.p==='C'"}],"mark":{"type":"text","align":"right","dx":-6.9,"fontSize":7.5,"baseline":"middle"},"encoding":{"x":{"field":"t","type":"quantitative","title":"Time (months)","scale":{"domain":[0,60],"nice":false,"zero":false},"axis":{"values":[0,12,24,36,48,60],"labelOverlap":false}},"y":{"datum":106.8,"title":"Graft survival (%)","scale":{"domain":[0,100],"nice":false},"axis":{"values":[0,20,40,60,80,100],"labelOverlap":false}},"text":{"field":"a"}}},
       {"data":{"name":"pct"},"transform":[{"filter":"datum.p==='C'"}],"mark":{"type":"text","text":"vs.","fontStyle":"italic","align":"center","fontSize":7.5,"baseline":"middle"},"encoding":{"x":{"field":"t","type":"quantitative","title":"Time (months)","scale":{"domain":[0,60],"nice":false,"zero":false},"axis":{"values":[0,12,24,36,48,60],"labelOverlap":false}},"y":{"datum":106.8,"title":"Graft survival (%)","scale":{"domain":[0,100],"nice":false},"axis":{"values":[0,20,40,60,80,100],"labelOverlap":false}}}},
       {"data":{"name":"pct"},"transform":[{"filter":"datum.p==='C'"}],"mark":{"type":"text","align":"left","dx":6.9,"fontSize":7.5,"baseline":"middle"},"encoding":{"x":{"field":"t","type":"quantitative","title":"Time (months)","scale":{"domain":[0,60],"nice":false,"zero":false},"axis":{"values":[0,12,24,36,48,60],"labelOverlap":false}},"y":{"datum":106.8,"title":"Graft survival (%)","scale":{"domain":[0,100],"nice":false},"axis":{"values":[0,20,40,60,80,100],"labelOverlap":false}},"text":{"field":"b"}}},
       {"data":{"name":"hr"},"transform":[{"filter":"datum.p==='C'"}],"mark":{"type":"text","align":"right","dx":-4.2,"fontSize":7.6,"baseline":"middle"},"encoding":{"x":{"datum":37,"title":"Time (months)","scale":{"domain":[0,60],"nice":false,"zero":false},"axis":{"values":[0,12,24,36,48,60],"labelOverlap":false}},"y":{"datum":5.1,"title":"Graft survival (%)","scale":{"domain":[0,100],"nice":false},"axis":{"values":[0,20,40,60,80,100],"labelOverlap":false}},"text":{"field":"h"}}},
       {"data":{"name":"hr"},"transform":[{"filter":"datum.p==='C'"}],"mark":{"type":"text","text":"p","fontStyle":"italic","align":"center","fontSize":7.6,"baseline":"middle"},"encoding":{"x":{"datum":37,"title":"Time (months)","scale":{"domain":[0,60],"nice":false,"zero":false},"axis":{"values":[0,12,24,36,48,60],"labelOverlap":false}},"y":{"datum":5.1,"title":"Graft survival (%)","scale":{"domain":[0,100],"nice":false},"axis":{"values":[0,20,40,60,80,100],"labelOverlap":false}}}},
       {"data":{"name":"hr"},"transform":[{"filter":"datum.p==='C'"}],"mark":{"type":"text","align":"left","dx":4.2,"fontSize":7.6,"baseline":"middle"},"encoding":{"x":{"datum":37,"title":"Time (months)","scale":{"domain":[0,60],"nice":false,"zero":false},"axis":{"values":[0,12,24,36,48,60],"labelOverlap":false}},"y":{"datum":5.1,"title":"Graft survival (%)","scale":{"domain":[0,100],"nice":false},"axis":{"values":[0,20,40,60,80,100],"labelOverlap":false}},"text":{"field":"v"}}}
      ]},
     {"width":243,"height":41,"data":{"name":"risk"},"transform":[{"filter":"datum.p==='C'"}],
      "layer":[
       {"transform":[{"filter":"datum.t===0 && datum.g==='IFLT'"}],"mark":{"type":"rect","fill":"#d6d3e7"},"encoding":{"x":{"datum":-13,"axis":null},"x2":{"datum":62},"y":{"datum":"No. at risk","type":"nominal","axis":null}}},
       {"transform":[{"filter":"datum.t===0 && datum.g==='IFLT'"}],"mark":{"type":"rect","fill":"#f4f4f8"},"encoding":{"x":{"datum":-13,"axis":null},"x2":{"datum":62},"y":{"datum":"IFLT","type":"nominal","axis":null}}},
       {"transform":[{"filter":"datum.t===0 && datum.g==='IFLT'"}],"mark":{"type":"rect","fill":"#e8e7f0"},"encoding":{"x":{"datum":-13,"axis":null},"x2":{"datum":62},"y":{"datum":"CLT","type":"nominal","axis":null}}},
       {"transform":[{"filter":"datum.t===0 && datum.g==='IFLT'"}],"mark":{"type":"text","text":"No. at risk","align":"left","fontWeight":"bold","fontSize":8.3,"baseline":"middle"},"encoding":{"x":{"datum":-12.6,"axis":null},"y":{"datum":"No. at risk","type":"nominal","axis":null}}},
       {"transform":[{"filter":"datum.t===0"}],"mark":{"type":"text","align":"left","fontSize":8.5,"baseline":"middle"},"encoding":{"x":{"datum":-12.1,"axis":null},"y":{"field":"g","type":"nominal","axis":null},"text":{"field":"g"}}},
       {"mark":{"type":"text","fontSize":8.5,"baseline":"middle"},"encoding":{"x":{"field":"t","type":"quantitative","scale":{"domain":[0,60],"nice":false,"zero":false},"axis":null},"y":{"field":"g","type":"nominal","scale":{"type":"band","domain":["No. at risk","IFLT","CLT"],"paddingInner":0,"paddingOuter":0},"axis":null},"text":{"field":"n"}}}
      ]}
    ]},
   {"title":{"text":"D","anchor":"start","fontSize":18.5,"fontWeight":"bold","offset":2,"dx":-23},
    "spacing":4,"resolve":{"scale":{"color":"independent"},"legend":{"color":"independent"}},
    "vconcat":[
     {"width":243,"height":162,
      "title":{"text":"5-year graft survival\u00a0 (censored for tumor related graft loss)","frame":"group","anchor":"middle","offset":2},
      "layer":[
       {"data":{"name":"pct"},"transform":[{"filter":"datum.p==='D'"}],"mark":{"type":"rule","color":"#c8c8c8","strokeDash":[1.5,2],"strokeWidth":1},"encoding":{"x":{"field":"t","type":"quantitative","title":"Time (months)","scale":{"domain":[0,60],"nice":false,"zero":false},"axis":{"values":[0,12,24,36,48,60],"labelOverlap":false}},"y":{"datum":0,"title":"Graft survival (%)","scale":{"domain":[0,100],"nice":false},"axis":{"values":[0,20,40,60,80,100],"labelOverlap":false}},"y2":{"datum":100}}},
       {"data":{"name":"ref"},"transform":[{"filter":"datum.p==='D'"}],"mark":{"type":"rule","color":"#c8c8c8","strokeDash":[1.5,2],"strokeWidth":1},"encoding":{"x":{"datum":1,"title":"Time (months)","scale":{"domain":[0,60],"nice":false,"zero":false},"axis":{"values":[0,12,24,36,48,60],"labelOverlap":false}},"x2":{"datum":60},"y":{"field":"s","type":"quantitative","title":"Graft survival (%)","scale":{"domain":[0,100],"nice":false},"axis":{"values":[0,20,40,60,80,100],"labelOverlap":false}}}},
       {"data":{"name":"km"},"transform":[{"filter":"datum.p==='D'"}],"mark":{"type":"line","interpolate":"step-after","strokeWidth":1.3},
        "encoding":{"x":{"field":"t","type":"quantitative","title":"Time (months)","scale":{"domain":[0,60],"nice":false,"zero":false},"axis":{"values":[0,12,24,36,48,60],"labelOverlap":false}},"y":{"field":"s","type":"quantitative","title":"Graft survival (%)","scale":{"domain":[0,100],"nice":false},"axis":{"values":[0,20,40,60,80,100],"labelOverlap":false}},
         "color":{"field":"g","type":"nominal","scale":{"domain":["IFLT","CLT"],"range":["#ed1c24","#7b2a8e"]},
          "legend":{"title":null,"orient":"none","direction":"vertical","legendX":257,"legendY":136,"symbolType":"M-2,0H2M0,0V-0.7","symbolSize":100,"symbolStrokeWidth":1.6,"labelFontSize":7.5,"labelOffset":9.7,"rowPadding":4.2,"padding":0,"labelColor":"#000"}}}},
       {"data":{"name":"cens"},"transform":[{"filter":"datum.p==='D' && datum.g==='IFLT'"}],"mark":{"type":"point","shape":"M0,0V-1","size":36,"filled":false,"color":"#ed1c24","strokeWidth":1,"opacity":1},"encoding":{"x":{"field":"t","type":"quantitative","title":"Time (months)","scale":{"domain":[0,60],"nice":false,"zero":false},"axis":{"values":[0,12,24,36,48,60],"labelOverlap":false}},"y":{"field":"s","type":"quantitative","title":"Graft survival (%)","scale":{"domain":[0,100],"nice":false},"axis":{"values":[0,20,40,60,80,100],"labelOverlap":false}}}},
       {"data":{"name":"cens"},"transform":[{"filter":"datum.p==='D' && datum.g==='CLT'"}],"mark":{"type":"point","shape":"M0,0V-1","size":36,"filled":false,"color":"#7b2a8e","strokeWidth":1,"opacity":1},"encoding":{"x":{"field":"t","type":"quantitative","title":"Time (months)","scale":{"domain":[0,60],"nice":false,"zero":false},"axis":{"values":[0,12,24,36,48,60],"labelOverlap":false}},"y":{"field":"s","type":"quantitative","title":"Graft survival (%)","scale":{"domain":[0,100],"nice":false},"axis":{"values":[0,20,40,60,80,100],"labelOverlap":false}}}},
       {"data":{"name":"pct"},"transform":[{"filter":"datum.p==='D'"}],"mark":{"type":"text","align":"right","dx":-6.9,"fontSize":7.5,"baseline":"middle"},"encoding":{"x":{"field":"t","type":"quantitative","title":"Time (months)","scale":{"domain":[0,60],"nice":false,"zero":false},"axis":{"values":[0,12,24,36,48,60],"labelOverlap":false}},"y":{"datum":106.8,"title":"Graft survival (%)","scale":{"domain":[0,100],"nice":false},"axis":{"values":[0,20,40,60,80,100],"labelOverlap":false}},"text":{"field":"a"}}},
       {"data":{"name":"pct"},"transform":[{"filter":"datum.p==='D'"}],"mark":{"type":"text","text":"vs.","fontStyle":"italic","align":"center","fontSize":7.5,"baseline":"middle"},"encoding":{"x":{"field":"t","type":"quantitative","title":"Time (months)","scale":{"domain":[0,60],"nice":false,"zero":false},"axis":{"values":[0,12,24,36,48,60],"labelOverlap":false}},"y":{"datum":106.8,"title":"Graft survival (%)","scale":{"domain":[0,100],"nice":false},"axis":{"values":[0,20,40,60,80,100],"labelOverlap":false}}}},
       {"data":{"name":"pct"},"transform":[{"filter":"datum.p==='D'"}],"mark":{"type":"text","align":"left","dx":6.9,"fontSize":7.5,"baseline":"middle"},"encoding":{"x":{"field":"t","type":"quantitative","title":"Time (months)","scale":{"domain":[0,60],"nice":false,"zero":false},"axis":{"values":[0,12,24,36,48,60],"labelOverlap":false}},"y":{"datum":106.8,"title":"Graft survival (%)","scale":{"domain":[0,100],"nice":false},"axis":{"values":[0,20,40,60,80,100],"labelOverlap":false}},"text":{"field":"b"}}},
       {"data":{"name":"hr"},"transform":[{"filter":"datum.p==='D'"}],"mark":{"type":"text","align":"right","dx":-4.2,"fontSize":7.6,"baseline":"middle"},"encoding":{"x":{"datum":37,"title":"Time (months)","scale":{"domain":[0,60],"nice":false,"zero":false},"axis":{"values":[0,12,24,36,48,60],"labelOverlap":false}},"y":{"datum":5.1,"title":"Graft survival (%)","scale":{"domain":[0,100],"nice":false},"axis":{"values":[0,20,40,60,80,100],"labelOverlap":false}},"text":{"field":"h"}}},
       {"data":{"name":"hr"},"transform":[{"filter":"datum.p==='D'"}],"mark":{"type":"text","text":"p","fontStyle":"italic","align":"center","fontSize":7.6,"baseline":"middle"},"encoding":{"x":{"datum":37,"title":"Time (months)","scale":{"domain":[0,60],"nice":false,"zero":false},"axis":{"values":[0,12,24,36,48,60],"labelOverlap":false}},"y":{"datum":5.1,"title":"Graft survival (%)","scale":{"domain":[0,100],"nice":false},"axis":{"values":[0,20,40,60,80,100],"labelOverlap":false}}}},
       {"data":{"name":"hr"},"transform":[{"filter":"datum.p==='D'"}],"mark":{"type":"text","align":"left","dx":4.2,"fontSize":7.6,"baseline":"middle"},"encoding":{"x":{"datum":37,"title":"Time (months)","scale":{"domain":[0,60],"nice":false,"zero":false},"axis":{"values":[0,12,24,36,48,60],"labelOverlap":false}},"y":{"datum":5.1,"title":"Graft survival (%)","scale":{"domain":[0,100],"nice":false},"axis":{"values":[0,20,40,60,80,100],"labelOverlap":false}},"text":{"field":"v"}}}
      ]},
     {"width":243,"height":41,"data":{"name":"risk"},"transform":[{"filter":"datum.p==='D'"}],
      "layer":[
       {"transform":[{"filter":"datum.t===0 && datum.g==='IFLT'"}],"mark":{"type":"rect","fill":"#d6d3e7"},"encoding":{"x":{"datum":-13,"axis":null},"x2":{"datum":62},"y":{"datum":"No. at risk","type":"nominal","axis":null}}},
       {"transform":[{"filter":"datum.t===0 && datum.g==='IFLT'"}],"mark":{"type":"rect","fill":"#f4f4f8"},"encoding":{"x":{"datum":-13,"axis":null},"x2":{"datum":62},"y":{"datum":"IFLT","type":"nominal","axis":null}}},
       {"transform":[{"filter":"datum.t===0 && datum.g==='IFLT'"}],"mark":{"type":"rect","fill":"#e8e7f0"},"encoding":{"x":{"datum":-13,"axis":null},"x2":{"datum":62},"y":{"datum":"CLT","type":"nominal","axis":null}}},
       {"transform":[{"filter":"datum.t===0 && datum.g==='IFLT'"}],"mark":{"type":"text","text":"No. at risk","align":"left","fontWeight":"bold","fontSize":8.3,"baseline":"middle"},"encoding":{"x":{"datum":-12.6,"axis":null},"y":{"datum":"No. at risk","type":"nominal","axis":null}}},
       {"transform":[{"filter":"datum.t===0"}],"mark":{"type":"text","align":"left","fontSize":8.5,"baseline":"middle"},"encoding":{"x":{"datum":-12.1,"axis":null},"y":{"field":"g","type":"nominal","axis":null},"text":{"field":"g"}}},
       {"mark":{"type":"text","fontSize":8.5,"baseline":"middle"},"encoding":{"x":{"field":"t","type":"quantitative","scale":{"domain":[0,60],"nice":false,"zero":false},"axis":null},"y":{"field":"g","type":"nominal","scale":{"type":"band","domain":["No. at risk","IFLT","CLT"],"paddingInner":0,"paddingOuter":0},"axis":null},"text":{"field":"n"}}}
      ]}
    ]}
  ]}
]
}
